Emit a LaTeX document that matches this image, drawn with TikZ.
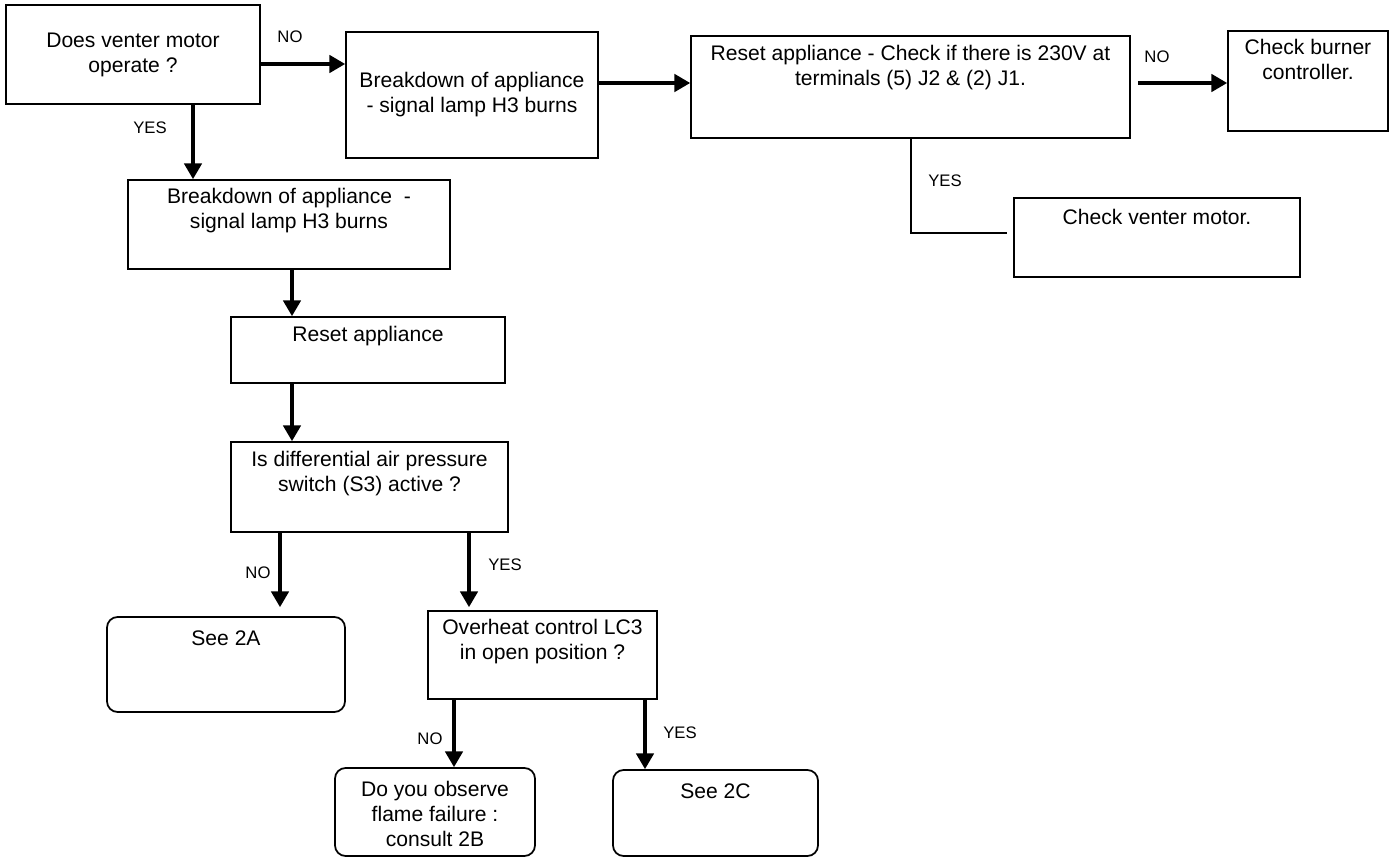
\documentclass[tikz,border=0pt]{standalone}
\usepackage{fontspec}
\setmainfont{Liberation Sans}
\usetikzlibrary{arrows.meta,positioning}
\tikzset{
  flow text/.style={font=\fontsize{12}{14.2}\selectfont, align=center, inner sep=0pt},
  flow label/.style={font=\fontsize{9.5}{11}\selectfont, inner sep=0pt},
  flow box/.style={draw=black, line width=1pt, inner sep=0pt},
  flow end/.style={flow box, rounded corners=6pt},
  flow arrow/.style={draw=black, line width=1.8pt, -{Triangle[length=9pt,width=10pt]}},
  flow line/.style={draw=black, line width=1pt},
}

\begin{document}
\begin{tikzpicture}[x=0.02cm,y=-0.02cm]
  \useasboundingbox (0,0) rectangle (1397,858);

  % top row
  \node[flow box, flow text, minimum width=5.08cm, minimum height=1.98cm] (motor) at (133,54.5)
    {Does venter motor\\operate ?};
  \node[flow box, flow text, minimum width=5.04cm, minimum height=2.52cm] (faultR) at (472,95)
    {Breakdown of appliance\\- signal lamp H3 burns};
  \node[flow box, minimum width=8.78cm, minimum height=2.04cm] (check) at (910.5,87) {};
  \node[flow text, below=0.2cm of check.north] (checkT)
    {Reset appliance - Check if there is 230V at\\terminals (5) J2 \& (2) J1.};
  \node[flow box, minimum width=3.20cm, minimum height=2.00cm] (burner) at (1308,81) {};
  \node[flow text, below=0.18cm of burner.north] (burnerT) {Check burner\\controller.};
  \node[flow box, minimum width=5.72cm, minimum height=1.58cm] (venter) at (1157,237.5) {};
  \node[flow text, below=0.24cm of venter.north] (venterT) {Check venter motor.};

  % left column
  \node[flow box, minimum width=6.44cm, minimum height=1.78cm] (faultL) at (289,224.5) {};
  \node[flow text, below=0.18cm of faultL.north] (faultLT)
    {Breakdown of appliance \ -\\signal lamp H3 burns};
  \node[flow box, minimum width=5.48cm, minimum height=1.32cm] (reset) at (368,350) {};
  \node[flow text, below=0.2cm of reset.north] (resetT) {Reset appliance};
  \node[flow box, minimum width=5.54cm, minimum height=1.80cm] (switch) at (369.5,487) {};
  \node[flow text, below=0.2cm of switch.north] (switchT)
    {Is differential air pressure\\switch (S3) active ?};
  \node[flow end, minimum width=4.76cm, minimum height=1.90cm] (see2a) at (226,664.5) {};
  \node[flow text, below=0.28cm of see2a.north] (see2aT) {See 2A};
  \node[flow box, minimum width=4.58cm, minimum height=1.76cm] (heat) at (542.5,655) {};
  \node[flow text, below=0.18cm of heat.north] (heatT)
    {Overheat control LC3\\in open position ?};
  \node[flow end, minimum width=4.00cm, minimum height=1.76cm] (flame) at (435,812) {};
  \node[flow text, below=0.28cm of flame.north] (flameT)
    {Do you observe\\flame failure :\\consult 2B};
  \node[flow end, minimum width=4.10cm, minimum height=1.72cm] (see2c) at (715.5,813) {};
  \node[flow text, below=0.28cm of see2c.north] (see2cT) {See 2C};

  % connectors
  \draw[flow arrow] (motor.east |- 0,64) -- (faultR.west |- 0,64);
  \node[flow label] (noMotor) at (290,37) {NO};
  \draw[flow arrow] (faultR.east |- 0,83) -- (check.west |- 0,83);
  \draw[flow arrow, shorten <=0.14cm] (check.east |- 0,83) -- (burner.west |- 0,83);
  \node[flow label] (noCheck) at (1157,57) {NO};
  \draw[flow line, shorten >=0.12cm] (check.south -| 911,0) |- (venter.west |- 0,233);
  \node[flow label] (yesCheck) at (945,181) {YES};

  \draw[flow arrow] (motor.south -| 193,0) -- (faultL.north -| 193,0);
  \node[flow label] (yesMotor) at (150,128) {YES};
  \draw[flow arrow] (faultL.south -| 292,0) -- (reset.north -| 292,0);
  \draw[flow arrow] (reset.south -| 292,0) -- (switch.north -| 292,0);
  \draw[flow arrow, shorten >=0.18cm] (switch.south -| 280,0) -- (see2a.north -| 280,0);
  \node[flow label] (noSwitch) at (258,573) {NO};
  \draw[flow arrow, shorten >=0.06cm] (switch.south -| 469,0) -- (heat.north -| 469,0);
  \node[flow label] (yesSwitch) at (505,565) {YES};
  \draw[flow arrow] (heat.south -| 454,0) -- (flame.north -| 454,0);
  \node[flow label] (noHeat) at (430,739) {NO};
  \draw[flow arrow] (heat.south -| 645,0) -- (see2c.north -| 645,0);
  \node[flow label] (yesHeat) at (680,733) {YES};
\end{tikzpicture}
\end{document}
